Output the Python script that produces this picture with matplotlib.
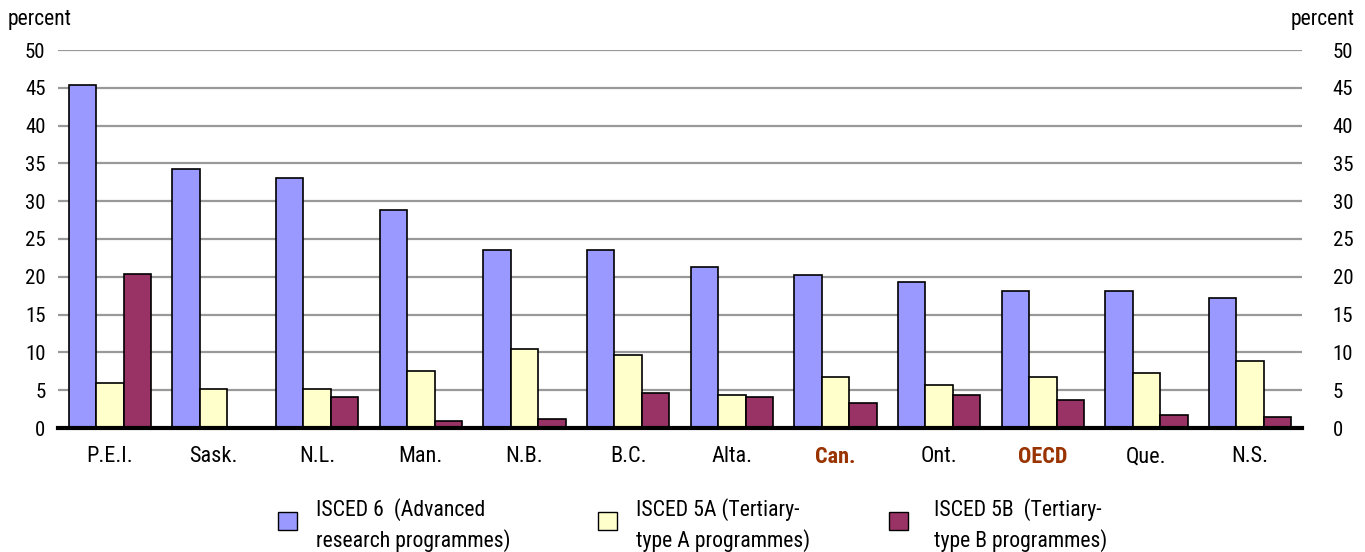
import matplotlib.pyplot as plt
import numpy as np
from matplotlib.patches import Rectangle

regions = ["P.E.I.", "Sask.", "N.L.", "Man.", "N.B.", "B.C.", "Alta.", "Can.", "Ont.", "OECD", "Que.", "N.S."]
isced6 = [45.4, 34.3, 33.1, 28.8, 23.5, 23.5, 21.3, 20.2, 19.3, 18.1, 18.1, 17.2]
isced5a = [5.9, 5.2, 5.2, 7.5, 10.4, 9.7, 4.4, 6.7, 5.7, 6.7, 7.3, 8.9]
isced5b = [20.4, 0.1, 4.1, 0.9, 1.2, 4.6, 4.1, 3.3, 4.4, 3.7, 1.7, 1.5]
labels = ["ISCED 6  (Advanced\nresearch programmes)",
          "ISCED 5A (Tertiary-\ntype A programmes)",
          "ISCED 5B  (Tertiary-\ntype B programmes)"]
colors = ["#9999ff", "#ffffcc", "#993366"]
highlight = ["Can.", "OECD"]

plt.rcParams['font.family'] = ['Roboto Condensed', 'Archivo Narrow', 'DejaVu Sans']

W, H = 1365, 552
fig = plt.figure(figsize=(W / 100, H / 100), dpi=100)
ax = fig.add_axes([58 / W, 1 - 428 / H, (1302 - 58) / W, (428 - 50) / H])

x = np.arange(len(regions))
w = 0.265
for i, (vals, c) in enumerate(zip([isced6, isced5a, isced5b], colors)):
    ax.bar(x + (i - 1) * w, vals, w, color=c, edgecolor="black", linewidth=1.2, zorder=3)

ax.set_xlim(-0.5, len(regions) - 0.5)
ax.set_ylim(0, 50)
ax.set_yticks(range(0, 51, 5))
ax.yaxis.grid(True, color="#999999", linewidth=1.6, zorder=0)
ax.set_axisbelow(True)
for s in ["top", "left", "right"]:
    ax.spines[s].set_visible(False)
ax.spines["bottom"].set_linewidth(3)
ax.spines["bottom"].set_zorder(4)
ax.tick_params(axis="y", length=0, labelsize=15, pad=9)
ax.tick_params(axis="x", length=0, labelsize=16, pad=13)
ax.set_xticks(x)
ax.set_xticklabels(regions)
for t in ax.get_xticklabels():
    if t.get_text() in highlight:
        t.set_color("#993300")
        t.set_fontweight("bold")

ax2 = ax.twinx()
ax2.set_ylim(0, 50)
ax2.set_yticks(range(0, 51, 5))
ax2.tick_params(axis="y", length=0, labelsize=15, pad=22)
for s in ax2.spines.values():
    s.set_visible(False)

fig.text(8 / W, 1 - 20 / H, "percent", fontsize=15.5, ha="left", va="center")
fig.text(1355 / W, 1 - 20 / H, "percent", fontsize=15.5, ha="right", va="center")

# legend drawn by hand to place the three entries like the original
hx = [278, 598, 889]
tx = [316, 636, 934]
for c, lab, h, t in zip(colors, labels, hx, tx):
    fig.add_artist(Rectangle((h / W, 1 - 530 / H), 19 / W, 18 / H, transform=fig.transFigure,
                             facecolor=c, edgecolor="black", linewidth=1.0))
    fig.text(t / W, 1 - 525 / H, lab, fontsize=15.7, ha="left", va="center", linespacing=1.4)

fig.savefig("out.png", dpi=100)
